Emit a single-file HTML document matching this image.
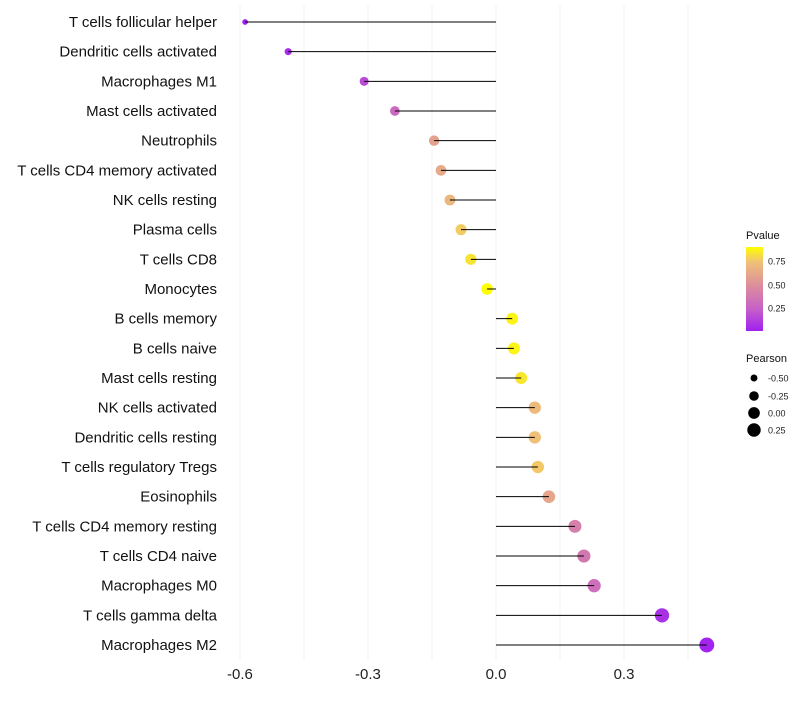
<!DOCTYPE html>
<html><head><meta charset="utf-8"><style>
body{margin:0;background:#fff;font-family:"Liberation Sans",sans-serif}
</style></head><body>
<svg id="chart" width="800" height="700" xmlns="http://www.w3.org/2000/svg"></svg>
<script>
const categories=["T cells follicular helper","Dendritic cells activated","Macrophages M1","Mast cells activated","Neutrophils","T cells CD4 memory activated","NK cells resting","Plasma cells","T cells CD8","Monocytes","B cells memory","B cells naive","Mast cells resting","NK cells activated","Dendritic cells resting","T cells regulatory  Tregs ","Eosinophils","T cells CD4 memory resting","T cells CD4 naive","Macrophages M0","T cells gamma delta","Macrophages M2"];
const pearson=[-0.588,-0.487,-0.309,-0.237,-0.145,-0.129,-0.108,-0.082,-0.059,-0.021,0.038,0.042,0.059,0.091,0.091,0.098,0.124,0.185,0.206,0.230,0.389,0.494];
const pvalues=[0.02,0.06,0.17,0.3,0.6,0.64,0.7,0.78,0.84,0.91,0.88,0.88,0.85,0.72,0.75,0.77,0.62,0.42,0.38,0.33,0.08,0.03];
const xTicks=[-0.6,-0.3,0.0,0.3];
const xTickLabels=["-0.6","-0.3","0.0","0.3"];
const NS="http://www.w3.org/2000/svg";
const svg=document.getElementById('chart');
const x=v=>496+v*426.7;
const y=i=>22+i*29.667;
function el(t,a){const e=document.createElementNS(NS,t);for(const k in a)e.setAttribute(k,a[k]);svg.appendChild(e);return e;}
function lerp(a,b,t){return a.map((v,i)=>Math.round(v+(b[i]-v)*t));}
const stops=[[0.016,[160,32,240]],[0.25,[198,96,200]],[0.5,[220,142,156]],[0.75,[240,192,120]],[0.91,[255,255,0]]];
function col(p){if(p<=stops[0][0])return 'rgb('+stops[0][1]+')';for(let i=1;i<stops.length;i++){if(p<=stops[i][0]){const t=(p-stops[i-1][0])/(stops[i][0]-stops[i-1][0]);return 'rgb('+lerp(stops[i-1][1],stops[i][1],t)+')';}}return 'rgb('+stops[stops.length-1][1]+')';}
const rad=v=>Math.sqrt(Math.max(2,34+44*v));
for(let v=-0.6;v<=0.51;v+=0.15){const g=el('line',{x1:x(v),x2:x(v),y1:5,y2:660,stroke:'#f3f3f3','stroke-width':1});}
xTicks.forEach((t,i)=>{const tx=el('text',{x:x(t),y:679,'text-anchor':'middle','font-size':15,fill:'#222'});tx.textContent=xTickLabels[i];});
categories.forEach((c,i)=>{
 const t=el('text',{x:217,y:y(i)+5,'text-anchor':'end','font-size':15,fill:'#111'});t.textContent=c;
 
 const d=el('circle',{cx:x(pearson[i]),cy:y(i),r:rad(pearson[i]),fill:col(pvalues[i])});
 
 const l=el('line',{x1:x(0),x2:x(pearson[i]),y1:y(i),y2:y(i),stroke:'#000','stroke-width':1});
 
});
const defs=el('defs',{});defs.innerHTML='<linearGradient id="pg" x1="0" y1="1" x2="0" y2="0"><stop offset="0" stop-color="#a020f0"/><stop offset="0.26" stop-color="#c660c8"/><stop offset="0.54" stop-color="#dc8e9c"/><stop offset="0.82" stop-color="#f0c078"/><stop offset="1" stop-color="#ffff00"/></linearGradient>';
const lt=el('text',{x:746,y:239,'font-size':11,fill:'#111'});lt.textContent='Pvalue';
const cb=el('rect',{x:746,y:247,width:17,height:84,fill:'url(#pg)'});
[[0.75,261],[0.5,285],[0.25,308]].forEach(([v,yy])=>{const t=el('text',{x:768,y:yy+3.5,'font-size':9,fill:'#222'});t.textContent=v.toFixed(2);});
const st=el('text',{x:746,y:362,'font-size':11,fill:'#111'});st.textContent='Pearson';
[[-0.5,378],[-0.25,396],[0,413],[0.25,430]].forEach(([v,yy])=>{const c=el('circle',{cx:754,cy:yy,r:rad(v),fill:'#000'});const t=el('text',{x:768,y:yy+3.5,'font-size':9,fill:'#222'});t.textContent=v.toFixed(2);});
</script>
</body></html>
